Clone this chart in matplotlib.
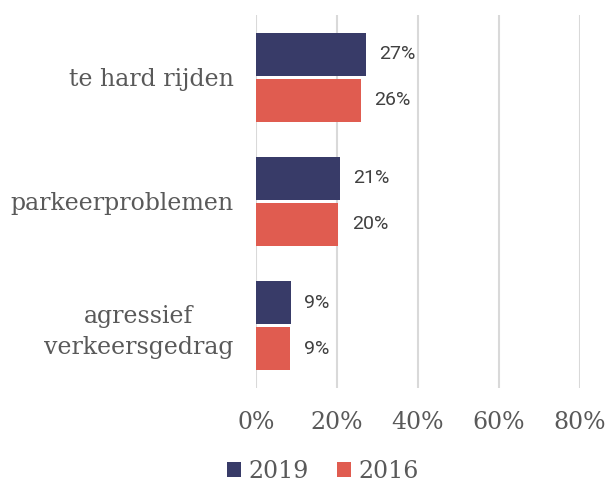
import numpy as np
import matplotlib.pyplot as plt

# data
categories = ['te hard rijden', 'parkeerproblemen', 'agressief\nverkeersgedrag']
waarden_2019 = [27.2, 20.8, 8.6]
waarden_2016 = [25.9, 20.4, 8.5]
labels_2019 = ['27%', '21%', '9%']
labels_2016 = ['26%', '20%', '9%']
xticks = [0, 20, 40, 60, 80]

kleur_2019 = '#383b68'
kleur_2016 = '#e05c50'
tekst = '#595959'
serif = 'DejaVu Serif'

fig = plt.figure(figsize=(6.09, 4.86), dpi=100)
ax = fig.add_axes([0.420, 0.202, 0.532, 0.767])

y = np.arange(len(categories))
h = 0.346
off = 0.185
ax.barh(y - off, waarden_2019, height=h, color=kleur_2019, label='2019', zorder=3)
ax.barh(y + off, waarden_2016, height=h, color=kleur_2016, label='2016', zorder=3)

for i in range(len(categories)):
    ax.text(waarden_2019[i] + 3.3, y[i] - off, labels_2019[i], va='center', ha='left',
            fontsize=14, color='#404040', family='Roboto')
    ax.text(waarden_2016[i] + 3.3, y[i] + off, labels_2016[i], va='center', ha='left',
            fontsize=14, color='#404040', family='Roboto')

ax.set_ylim(2.5, -0.5)
ax.set_xlim(0, 80)
ax.set_yticks(y)
ax.set_yticklabels(categories, fontsize=17, color=tekst, family=serif, linespacing=1.45,
                   multialignment='center')
ax.set_xticks(xticks)
ax.set_xticklabels([f'{v}%' for v in xticks], fontsize=17, color=tekst, family=serif)
ax.tick_params(axis='both', length=0)
ax.tick_params(axis='y', pad=16)
ax.tick_params(axis='x', pad=17)
for s in ax.spines.values():
    s.set_visible(False)
ax.grid(axis='x', color='#d9d9d9', linewidth=1.5, zorder=0)
ax.set_axisbelow(True)

leg = fig.legend(loc='center', bbox_to_anchor=(0.53, 1 - 471 / 486), ncol=2, frameon=False,
                 prop={'family': serif, 'size': 17}, handlelength=0.6, handleheight=0.6,
                 handletextpad=0.3, columnspacing=1.2)
for t in leg.get_texts():
    t.set_color(tekst)

fig.savefig('out.png', dpi=100)
